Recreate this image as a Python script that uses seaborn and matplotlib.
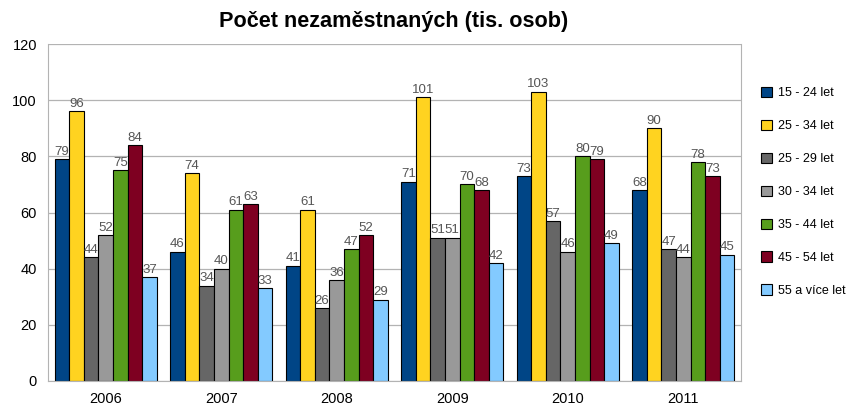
import matplotlib
matplotlib.use('Agg')
import matplotlib.pyplot as plt
import seaborn as sns
import pandas as pd

# Data
years = ['2006', '2007', '2008', '2009', '2010', '2011']
groups = ['15 - 24 let', '25 - 34 let', '25 - 29 let', '30 - 34 let',
          '35 - 44 let', '45 - 54 let', '55 a více let']
v_15_24 = [79, 46, 41, 71, 73, 68]
v_25_34 = [96, 74, 61, 101, 103, 90]
v_25_29 = [44, 34, 26, 51, 57, 47]
v_30_34 = [52, 40, 36, 51, 46, 44]
v_35_44 = [75, 61, 47, 70, 80, 78]
v_45_54 = [84, 63, 52, 68, 79, 73]
v_55 = [37, 33, 29, 42, 49, 45]

series = [v_15_24, v_25_34, v_25_29, v_30_34, v_35_44, v_45_54, v_55]
colors = ['#004586', '#ffd320', '#666666', '#999999', '#579d1c', '#7e0021', '#83caff']

rows = []
for name, vals in zip(groups, series):
    for y, v in zip(years, vals):
        rows.append({'rok': y, 'skupina': name, 'pocet': v})
df = pd.DataFrame(rows)

sns.set_style('white')
plt.rcParams['font.family'] = ['Liberation Sans', 'DejaVu Sans']
plt.rcParams['text.color'] = 'black'

fig = plt.figure(figsize=(8.51, 4.09), dpi=100)
ax = fig.add_axes([48 / 851, 28 / 409, 693 / 851, 337 / 409])

sns.barplot(data=df, x='rok', y='pocet', hue='skupina', hue_order=groups,
            palette=colors, width=0.885, edgecolor='black', linewidth=0.8,
            saturation=1, ax=ax, legend=False)

for cont in ax.containers:
    ax.bar_label(cont, fmt='%d', color='#555555', fontsize=9.5, padding=1)

ax.set_ylim(0, 120)
ax.set_yticks(range(0, 121, 20))
ax.set_xlim(-0.5, 5.5)
ax.set_xlabel('')
ax.set_ylabel('')
ax.yaxis.grid(True, color='#b3b3b3', linewidth=0.9)
ax.set_axisbelow(True)
ax.spines['top'].set_visible(False)
for side in ['left', 'bottom', 'right']:
    ax.spines[side].set_color('#b3b3b3')
ax.tick_params(axis='both', length=6, color='#b3b3b3', labelsize=10.5, labelcolor='black')
ax.tick_params(axis='x', pad=2)
ax.tick_params(axis='y', pad=2)

handles = [plt.Rectangle((0, 0), 1, 1, facecolor=c, edgecolor='black', linewidth=0.8)
           for c in colors]
fig.legend(handles, groups, loc='upper left', bbox_to_anchor=(756 / 851, 1 - 82 / 409),
           frameon=False, fontsize=9, handlelength=0.9, handleheight=0.9,
           handletextpad=0.5, labelspacing=1.63, borderaxespad=0)

fig.text(394 / 851, 1 - 21 / 409, 'Počet nezaměstnaných (tis. osob)', ha='center',
         va='center', fontsize=15.6, fontweight='bold', color='black')

fig.savefig('out.png', dpi=100)
